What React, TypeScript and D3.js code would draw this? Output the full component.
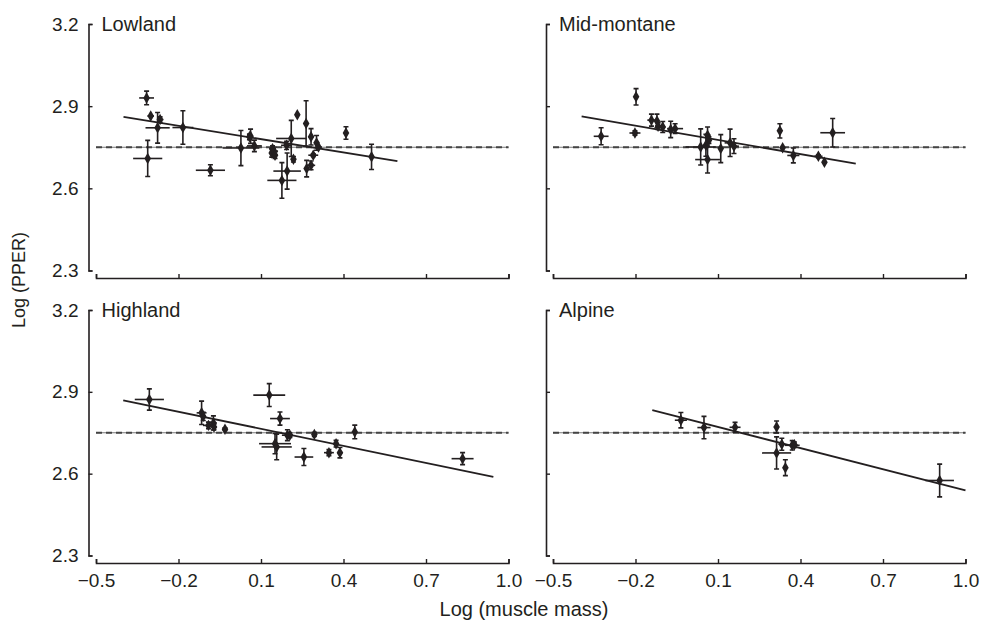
import React, { useEffect, useRef } from "react";
import * as d3 from "d3";

// [log muscle mass, log PPER, x error, y error]
const lowland = [
  [-0.316, 2.93, 0.027, 0.025],
  [-0.301, 2.864, 0.012, 0],
  [-0.267, 2.851, 0.012, 0.01],
  [-0.276, 2.821, 0.044, 0.056],
  [-0.184, 2.822, 0.038, 0.061],
  [-0.312, 2.709, 0.053, 0.066],
  [-0.084, 2.666, 0.053, 0.02],
  [0.027, 2.747, 0.067, 0.064],
  [0.058, 2.788, 0.01, 0.01],
  [0.062, 2.79, 0, 0.026],
  [0.076, 2.755, 0.027, 0.021],
  [0.139, 2.729, 0.01, 0.015],
  [0.142, 2.745, 0.012, 0.01],
  [0.147, 2.736, 0.015, 0.015],
  [0.151, 2.721, 0.01, 0.012],
  [0.21, 2.782, 0.055, 0.066],
  [0.193, 2.757, 0.02, 0.015],
  [0.176, 2.629, 0.053, 0.065],
  [0.195, 2.663, 0.05, 0.066],
  [0.232, 2.869, 0.008, 0],
  [0.264, 2.837, 0, 0.083],
  [0.218, 2.706, 0.006, 0.01],
  [0.282, 2.788, 0.01, 0.03],
  [0.29, 2.721, 0.018, 0.005],
  [0.266, 2.672, 0, 0.03],
  [0.282, 2.684, 0.015, 0.016],
  [0.302, 2.766, 0, 0.027],
  [0.309, 2.751, 0.01, 0],
  [0.409, 2.802, 0, 0.023],
  [0.502, 2.715, 0, 0.046],
];

const midMontane = [
  [-0.325, 2.79, 0.027, 0.031],
  [-0.198, 2.934, 0.005, 0.03],
  [-0.202, 2.802, 0.02, 0.008],
  [-0.142, 2.849, 0.015, 0.022],
  [-0.122, 2.846, 0.008, 0.025],
  [-0.118, 2.827, 0.01, 0.012],
  [-0.101, 2.824, 0.01, 0.02],
  [-0.072, 2.815, 0.008, 0.03],
  [-0.056, 2.818, 0.029, 0.018],
  [0.037, 2.751, 0.055, 0.066],
  [0.062, 2.705, 0.045, 0.049],
  [0.062, 2.794, 0.01, 0.03],
  [0.067, 2.776, 0.008, 0.012],
  [0.056, 2.757, 0.01, 0.04],
  [0.11, 2.745, 0, 0.051],
  [0.144, 2.766, 0.02, 0.05],
  [0.158, 2.754, 0.018, 0.027],
  [0.325, 2.81, 0, 0.026],
  [0.335, 2.748, 0, 0],
  [0.374, 2.72, 0.022, 0.027],
  [0.465, 2.717, 0.015, 0.005],
  [0.487, 2.695, 0, 0],
  [0.517, 2.803, 0.045, 0.052],
];

const highland = [
  [-0.306, 2.872, 0.053, 0.039],
  [-0.116, 2.823, 0.018, 0.043],
  [-0.11, 2.81, 0.01, 0.015],
  [-0.091, 2.777, 0.02, 0.012],
  [-0.073, 2.786, 0.012, 0.026],
  [-0.071, 2.771, 0.01, 0.01],
  [-0.031, 2.763, 0.005, 0.005],
  [0.13, 2.888, 0.058, 0.042],
  [0.169, 2.802, 0.036, 0.024],
  [0.151, 2.71, 0.058, 0.037],
  [0.157, 2.698, 0.055, 0.047],
  [0.196, 2.741, 0.02, 0.02],
  [0.205, 2.741, 0.01, 0.008],
  [0.294, 2.744, 0.008, 0.008],
  [0.256, 2.661, 0.034, 0.031],
  [0.347, 2.677, 0.018, 0.011],
  [0.373, 2.71, 0.01, 0.012],
  [0.387, 2.677, 0.01, 0.019],
  [0.441, 2.753, 0, 0.025],
  [0.833, 2.655, 0.04, 0.022],
];

const alpine = [
  [-0.035, 2.796, 0.022, 0.028],
  [0.049, 2.769, 0.024, 0.041],
  [0.162, 2.77, 0.02, 0.018],
  [0.313, 2.771, 0, 0.022],
  [0.313, 2.676, 0.053, 0.059],
  [0.332, 2.708, 0.012, 0.022],
  [0.37, 2.704, 0.027, 0.017],
  [0.378, 2.706, 0.01, 0.01],
  [0.345, 2.622, 0, 0.029],
  [0.906, 2.575, 0.052, 0.06],
];

// fitted line endpoints [x1, y1, x2, y2]
const fits = [
  [-0.4, 2.861, 0.596, 2.699],
  [-0.396, 2.863, 0.601, 2.69],
  [-0.401, 2.869, 0.945, 2.588],
  [-0.139, 2.833, 1.0, 2.539],
];

const panelNames = ["Lowland", "Mid-montane", "Highland", "Alpine"];
const panelData = [lowland, midMontane, highland, alpine];
const meanLine = 2.75;
const xTicks = [-0.5, -0.2, 0.1, 0.4, 0.7, 1.0];
const yTicks = [2.3, 2.6, 2.9, 3.2];

const INK = "#231f20";
const FONT = "'Liberation Sans', Arial, Helvetica, sans-serif";

const App = () => {
  const svgRef = useRef<SVGSVGElement>(null);

  useEffect(() => {
    const svg = d3.select(svgRef.current);
    svg.selectAll("*").remove();

    const cols = [
      { x0: 96, x1: 508.5, axisX: 88.5 },
      { x0: 553, x1: 965.5, axisX: 546 },
    ];
    const rows = [
      { y0: 270.5, y1: 24, axisY: 278 },
      { y0: 555.5, y1: 310, axisY: 563 },
    ];

    panelData.forEach((pts, i) => {
      const col = cols[i % 2];
      const row = rows[Math.floor(i / 2)];
      const x = d3.scaleLinear().domain([-0.5, 1.0]).range([col.x0, col.x1]);
      const y = d3.scaleLinear().domain([2.3, 3.2]).range([row.y0, row.y1]);
      const g = svg.append("g");

      // y axis
      const yAxis = d3
        .axisLeft(y)
        .tickValues(yTicks)
        .tickSizeInner(-4)
        .tickSizeOuter(-4)
        .tickPadding(10)
        .tickFormat(i % 2 === 0 ? d3.format(".1f") : () => "");
      const ya = g
        .append("g")
        .attr("transform", `translate(${col.axisX},0)`)
        .call(yAxis);

      // x axis
      const xAxis = d3
        .axisBottom(x)
        .tickValues(xTicks)
        .tickSizeInner(-4)
        .tickSizeOuter(-4)
        .tickPadding(11)
        .tickFormat(i >= 2 ? d3.format(".1f") : () => "");
      const xa = g
        .append("g")
        .attr("transform", `translate(0,${row.axisY})`)
        .call(xAxis);

      [ya, xa].forEach((a) => {
        a.select(".domain").attr("stroke", INK).attr("stroke-width", 1.6);
        a.selectAll(".tick line").attr("stroke", INK).attr("stroke-width", 1.4);
        a.selectAll(".tick text")
          .attr("fill", INK)
          .style("font-family", FONT)
          .style("font-size", "19px");
      });

      // panel label
      g.append("text")
        .attr("x", col.axisX + 13)
        .attr("y", row.y1 + 7)
        .attr("fill", INK)
        .style("font-family", FONT)
        .style("font-size", "20px")
        .text(panelNames[i]);

      // mean reference line
      g.append("line")
        .attr("x1", x(-0.5))
        .attr("x2", x(1.0))
        .attr("y1", y(meanLine))
        .attr("y2", y(meanLine))
        .attr("stroke", "#555")
        .attr("stroke-width", 0.8);
      g.append("line")
        .attr("x1", x(-0.5))
        .attr("x2", x(1.0))
        .attr("y1", y(meanLine))
        .attr("y2", y(meanLine))
        .attr("stroke", "#444")
        .attr("stroke-width", 1.8)
        .attr("stroke-dasharray", "6,4");

      // fitted line
      const f = fits[i];
      g.append("line")
        .attr("x1", x(f[0]))
        .attr("y1", y(f[1]))
        .attr("x2", x(f[2]))
        .attr("y2", y(f[3]))
        .attr("stroke", INK)
        .attr("stroke-width", 1.8);

      // error bars
      const bars = g
        .append("g")
        .attr("stroke", INK)
        .attr("stroke-width", 1.6)
        .attr("fill", "none");
      pts.forEach(([px, py, xe, ye]) => {
        if (xe > 0) {
          bars
            .append("line")
            .attr("x1", x(px - xe))
            .attr("x2", x(px + xe))
            .attr("y1", y(py))
            .attr("y2", y(py));
        }
        if (ye > 0) {
          bars
            .append("path")
            .attr(
              "d",
              `M${x(px)},${y(py - ye)}V${y(py + ye)}` +
                `M${x(px) - 2.5},${y(py - ye)}H${x(px) + 2.5}` +
                `M${x(px) - 2.5},${y(py + ye)}H${x(px) + 2.5}`
            );
        }
      });

      // points
      const symbol = d3.symbol().type(d3.symbolDiamond).size(38);
      g.append("g")
        .selectAll("path")
        .data(pts)
        .enter()
        .append("path")
        .attr("transform", (d) => `translate(${x(d[0])},${y(d[1])})`)
        .attr("d", symbol)
        .attr("fill", INK);
    });

    // axis titles
    svg
      .append("text")
      .attr("x", 524)
      .attr("y", 616)
      .attr("text-anchor", "middle")
      .attr("fill", INK)
      .style("font-family", FONT)
      .style("font-size", "20px")
      .text("Log (muscle mass)");

    svg
      .append("text")
      .attr("transform", "translate(25,280) rotate(-90)")
      .attr("text-anchor", "middle")
      .attr("fill", INK)
      .style("font-family", FONT)
      .style("font-size", "18px")
      .text("Log (PPER)");
  }, []);

  return (
    <svg
      ref={svgRef}
      width={981}
      height={623}
      style={{ position: "absolute", left: 0, top: 0, background: "#fff" }}
    ></svg>
  );
};

export default App;
